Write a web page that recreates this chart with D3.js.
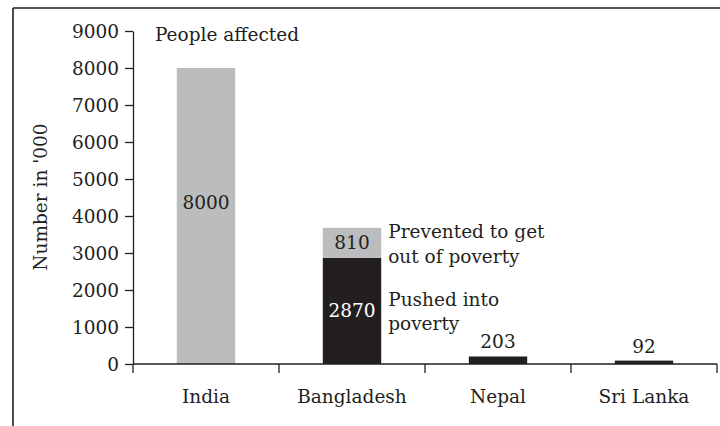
<!DOCTYPE html>
<html lang="en">
<head>
<meta charset="utf-8">
<title>People affected / pushed into poverty</title>
<script src="https://d3js.org/d3.v7.min.js"></script>
<style>
  body { margin: 0; background: #fff; }
  text { font-family: "DejaVu Serif", serif; fill: #231f20; }
  .axis path, .axis line { stroke: #231f20; stroke-width: 1.3; }
  .axis text { font-size: 18.5px; font-family: "DejaVu Serif", serif; fill: #231f20; }
</style>
</head>
<body>
<script>
// data
var countries = ["India", "Bangladesh", "Nepal", "Sri Lanka"];
var pushed = [0, 2870, 203, 92];          // black: pushed into poverty
var affected = [8000, 810, 0, 0];         // grey: people affected / prevented to get out
var yTicks = [0, 1000, 2000, 3000, 4000, 5000, 6000, 7000, 8000, 9000];

var w = 720, h = 426, fs = "18.5px";
var svg = d3.select("body").append("svg").attr("width", w).attr("height", h);

// frame (top and left border)
svg.append("line").attr("x1", 13).attr("x2", w).attr("y1", 8).attr("y2", 8)
   .attr("stroke", "#231f20").attr("stroke-width", 1.6);
svg.append("line").attr("x1", 13).attr("x2", 13).attr("y1", 8).attr("y2", h)
   .attr("stroke", "#231f20").attr("stroke-width", 1.6);

var x = d3.scaleBand().domain(countries).range([133, 717]).padding(0);
var y = d3.scaleLinear().domain([0, 9000]).range([364, 31]);

var rows = countries.map(function(c, i) {
  return { country: c, pushed: pushed[i], affected: affected[i] };
});
var stack = d3.stack().keys(["pushed", "affected"]);
var series = stack(rows);
var color = { pushed: "#231f20", affected: "#bbbcbe" };

var barW = x.bandwidth() * 0.4;

var g = svg.append("g");
series.forEach(function(s) {
  g.selectAll(".bar-" + s.key)
    .data(s.filter(function(d) { return d[1] > d[0]; }))
    .enter().append("rect")
    .attr("x", function(d) { return x(d.data.country) + (x.bandwidth() - barW) / 2; })
    .attr("width", barW)
    .attr("y", function(d) { return y(d[1]); })
    .attr("height", function(d) { return y(d[0]) - y(d[1]); })
    .attr("fill", color[s.key]);
});

// y axis
svg.append("g").attr("class", "axis")
  .attr("transform", "translate(133,0)")
  .call(d3.axisLeft(y).tickValues(yTicks).tickFormat(d3.format("d"))
    .tickSize(8).tickSizeOuter(0).tickPadding(6))
  .call(function(a) { a.selectAll("text").attr("dy", "0.36em"); });

// x axis (ticks at band edges)
var xa = svg.append("g").attr("class", "axis").attr("transform", "translate(0,364)");
xa.append("line").attr("x1", 133).attr("x2", 717);
var edges = countries.map(function(c) { return x(c); }).concat([x.range()[1]]);
xa.selectAll(".edge").data(edges).enter().append("line")
  .attr("x1", function(d) { return d; }).attr("x2", function(d) { return d; })
  .attr("y1", 0).attr("y2", 9);
xa.selectAll(".lab").data(countries).enter().append("text")
  .attr("x", function(d) { return x(d) + x.bandwidth() / 2; })
  .attr("y", 39)
  .attr("text-anchor", "middle")
  .text(function(d) { return d; });

// value labels
series.forEach(function(s) {
  g.selectAll(".val-" + s.key)
    .data(s.filter(function(d) { return d[1] > d[0]; }))
    .enter().append("text")
    .attr("x", function(d) { return x(d.data.country) + x.bandwidth() / 2; })
    .attr("y", function(d) {
      var v = d[1] - d[0];
      if (v < 500) return y(d[1]) - 8;           // small bars: above
      var mid = y((d[0] + d[1]) / 2) + 6;
      return d.data.country === "India" ? mid - 13 : mid;
    })
    .attr("text-anchor", "middle")
    .style("font-size", fs)
    .style("fill", function(d) {
      return (s.key === "pushed" && d[1] - d[0] >= 500) ? "#fff" : "#231f20";
    })
    .text(function(d) { return d[1] - d[0]; });
});

// annotations
svg.append("text").attr("x", 155).attr("y", 41).style("font-size", fs).text("People affected");
var bx = x("Bangladesh") + (x.bandwidth() + barW) / 2 + 7;
svg.append("text").attr("x", bx).attr("y", 238).style("font-size", fs).text("Prevented to get");
svg.append("text").attr("x", bx).attr("y", 263).style("font-size", fs).text("out of poverty");
svg.append("text").attr("x", bx).attr("y", 306).style("font-size", fs).text("Pushed into");
svg.append("text").attr("x", bx).attr("y", 330).style("font-size", fs).text("poverty");

// y axis title
svg.append("text")
  .attr("transform", "translate(47,197) rotate(-90)")
  .attr("text-anchor", "middle")
  .style("font-size", fs)
  .text("Number in '000");
</script>
</body>
</html>
